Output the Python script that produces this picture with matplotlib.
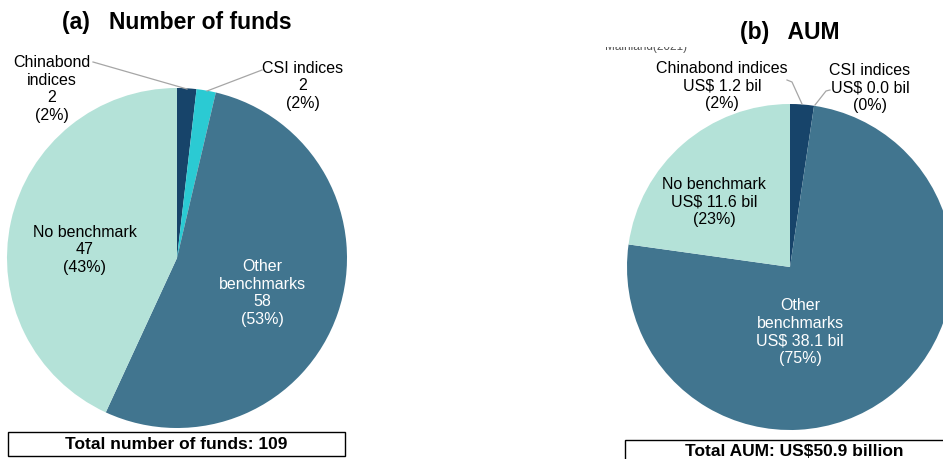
import matplotlib.pyplot as plt
from matplotlib.patches import Rectangle

plt.rcParams['font.family'] = ['Liberation Sans', 'DejaVu Sans']

# data
categories = ["Chinabond indices", "CSI indices", "Other benchmarks", "No benchmark"]
fund_counts = [2, 2, 58, 47]
fund_pcts = [2, 2, 53, 43]
aum_bil = [1.2, 0.0, 38.1, 11.6]
aum_pcts = [2, 0, 75, 23]
total_funds = 109
total_aum = 50.9

colors = ["#17446a", "#2bcad3", "#41758f", "#b4e2d8"]
W, H = 943, 459

fig = plt.figure(figsize=(W / 100, H / 100), dpi=100)
ax = fig.add_axes([0, 0, 1, 1])

# pies (y axis inverted later, so startangle 270 + counterclock = clockwise from top)
ax.pie(fund_counts, colors=colors, center=(177, 258), radius=170,
       startangle=270, counterclock=True, frame=True)
ax.pie(aum_bil, colors=colors, center=(790, 267), radius=163,
       startangle=270, counterclock=True, frame=True)

ax.set_xlim(0, W)
ax.set_ylim(H, 0)
ax.axis('off')

# titles
ax.text(177, 22, "(a)   Number of funds", ha='center', va='center',
        fontsize=16.5, fontweight='bold')
ax.text(790, 32, "(b)   AUM", ha='center', va='center',
        fontsize=16.5, fontweight='bold')

# clipped source note
ax.text(605, 47, "Mainland(2021)", ha='left', va='center', fontsize=8.5, color='#555555')
ax.add_patch(Rectangle((600, 37), 110, 10, facecolor='white', edgecolor='none', zorder=5))

fs = 11.5
ls = 1.2
# left labels
ax.text(52, 89, f"Chinabond\nindices\n{fund_counts[0]}\n({fund_pcts[0]}%)",
        ha='center', va='center', fontsize=fs, linespacing=ls)
ax.text(303, 86, f"CSI indices\n{fund_counts[1]}\n({fund_pcts[1]}%)",
        ha='center', va='center', fontsize=fs, linespacing=ls)
ax.text(262, 293, f"Other\nbenchmarks\n{fund_counts[2]}\n({fund_pcts[2]}%)",
        ha='center', va='center', fontsize=fs, linespacing=ls, color='white')
ax.text(85, 250, f"No benchmark\n{fund_counts[3]}\n({fund_pcts[3]}%)",
        ha='center', va='center', fontsize=fs, linespacing=ls)

# right labels
ax.text(722, 86, f"Chinabond indices\nUS$ {aum_bil[0]:.1f} bil\n({aum_pcts[0]}%)",
        ha='center', va='center', fontsize=fs, linespacing=ls)
ax.text(870, 88, f"CSI indices\nUS$ {aum_bil[1]:.1f} bil\n({aum_pcts[1]}%)",
        ha='center', va='center', fontsize=fs, linespacing=ls)
ax.text(800, 332, f"Other\nbenchmarks\nUS$ {aum_bil[2]:.1f} bil\n({aum_pcts[2]}%)",
        ha='center', va='center', fontsize=fs, linespacing=ls, color='white')
ax.text(714, 202, f"No benchmark\nUS$ {aum_bil[3]:.1f} bil\n({aum_pcts[3]}%)",
        ha='center', va='center', fontsize=fs, linespacing=ls)

# leader lines
lc = '#a6a6a6'
ax.plot([93, 187], [62, 89], color=lc, lw=0.9)
ax.plot([262, 207], [70, 91], color=lc, lw=0.9)
ax.plot([787, 792, 802], [80, 82, 104], color=lc, lw=0.9)
ax.plot([830, 826, 815], [90, 91, 105], color=lc, lw=0.9)

# total boxes
ax.add_patch(Rectangle((8, 432), 337, 24, facecolor='white', edgecolor='black', lw=1))
ax.text(176, 444.5, f"Total number of funds: {total_funds}", ha='center', va='center',
        fontsize=12.5, fontweight='bold')
ax.add_patch(Rectangle((625, 440), 330, 30, facecolor='white', edgecolor='black', lw=1))
ax.text(794, 451, f"Total AUM: US${total_aum} billion",
        ha='center', va='center', fontsize=12.5, fontweight='bold')

fig.savefig("out.png", dpi=100)
